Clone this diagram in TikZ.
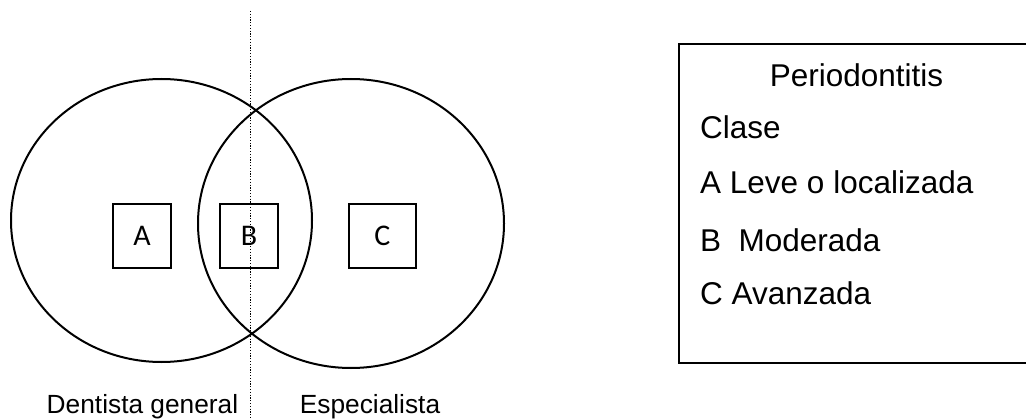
\documentclass[tikz,border=0pt]{standalone}
\usepackage{fontspec}
\setmainfont{Liberation Sans}
\newfontfamily\calib{Carlito}
\usetikzlibrary{shapes.geometric}
\tikzset{
  venn/.style={draw, ellipse, line width=2pt, inner sep=0pt},
  letterbox/.style={draw, line width=2pt, inner sep=0pt, font=\calib\fontsize{30}{34}\selectfont},
  lbl/.style={inner sep=0pt, font=\fontsize{26.3}{30}\selectfont},
  legend/.style={inner sep=0pt, anchor=base west, font=\fontsize{31.5}{36}\selectfont},
}
\begin{document}
\begin{tikzpicture}[x=1pt,y=-1pt]
\useasboundingbox (0,0) rectangle (1026,420);
\node[venn, minimum width=301pt, minimum height=283pt] (L) at (161.5,220.5) {};
\node[venn, minimum width=306pt, minimum height=289pt] (R) at (351,223.5) {};
\node[letterbox, minimum width=58pt, minimum height=64pt] (A) at (142,235.7) {A};
\node[letterbox, minimum width=58pt, minimum height=64pt] (B) at (249,235.7) {B};
\node[letterbox, minimum width=67pt, minimum height=64pt] (C) at (382.3,235.7) {C};
\coordinate (top) at (250.7,11);
\coordinate (bot) at (250.7,420);
\draw[line width=1.1pt, dash pattern=on 1.2pt off 1.6pt] (top) -- (bot);
\node[lbl, anchor=base] (dg) at (142.5,413) {Dentista general};
\node[lbl, anchor=base] (esp) at (370,413) {Especialista};
\begin{scope}
\clip (0,0) rectangle (1026,420);
\node[draw, line width=2pt, minimum width=360pt, minimum height=319pt, anchor=north west, inner sep=0pt] (box) at (678,42.7) {};
\end{scope}
\node[inner sep=0pt, anchor=base, font=\fontsize{31.5}{36}\selectfont] (per) at (856.5,86) {Periodontitis};
\node[legend] (cl) at (700,139) {Clase};
\node[legend] (la) at (700,193.5) {A Leve o localizada};
\node[legend] (lb) at (700,251) {B\ \ Moderada};
\node[legend] (lc) at (700,304) {C Avanzada};
\end{tikzpicture}
\end{document}
